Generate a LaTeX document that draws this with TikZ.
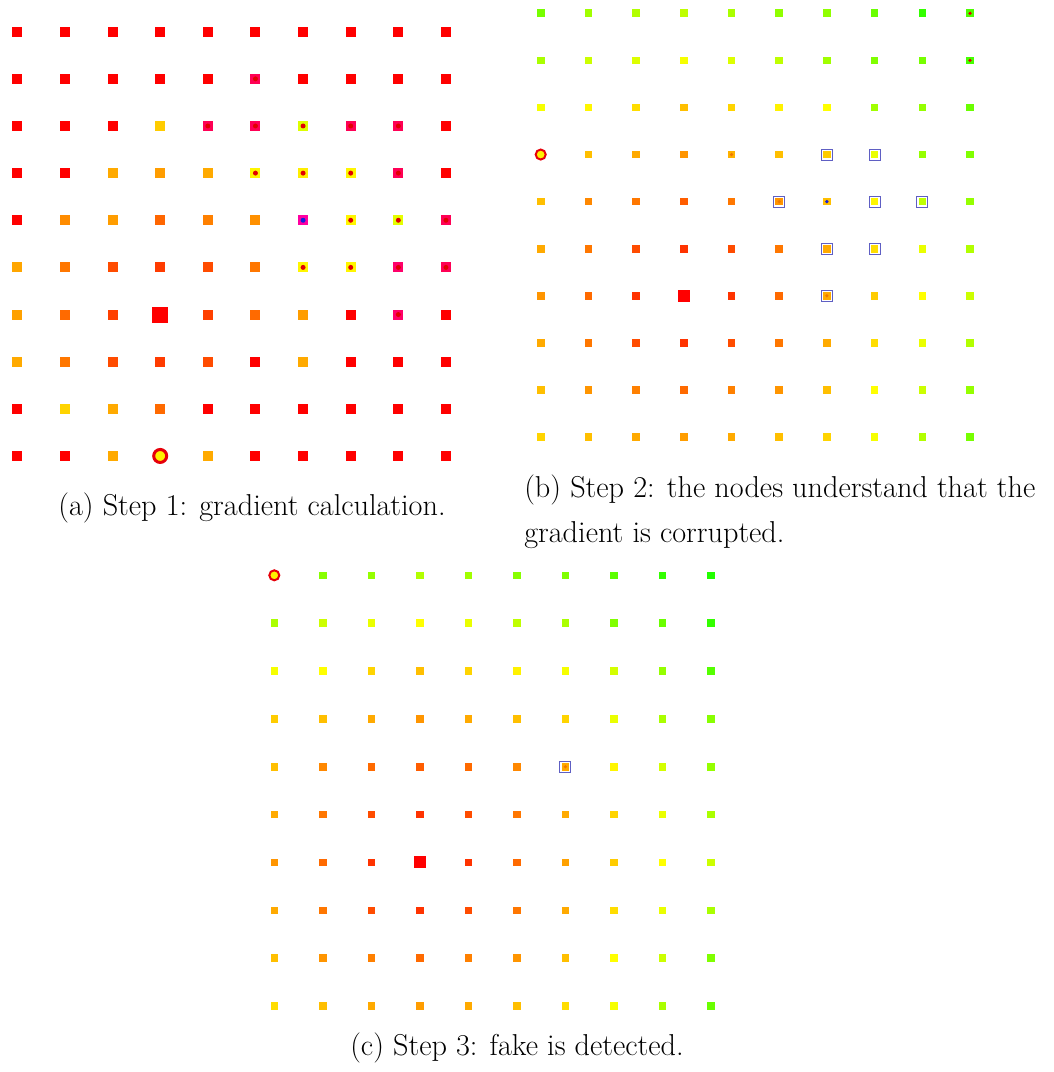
\documentclass[tikz,border=0pt]{standalone}
\usepackage{xcolor}
\usepackage{tikz}
\usetikzlibrary{positioning}
\definecolor{dotred}{RGB}{225,0,0}
\definecolor{dotblue}{RGB}{20,30,220}
\definecolor{dotorange}{RGB}{240,120,0}
\definecolor{flagblue}{RGB}{95,95,195}
\definecolor{ringred}{RGB}{230,0,10}
\definecolor{bigred}{RGB}{255,0,0}

% hue (degrees) -> colour cellc
\newcommand\sethue[1]{%
  \pgfmathsetmacro\cellr{ifthenelse(#1<=60,1,ifthenelse(#1<=120,(120-#1)/60,1))}%
  \pgfmathsetmacro\cellg{ifthenelse(#1<=60,#1/60,ifthenelse(#1<=120,1,0))}%
  \pgfmathsetmacro\cellb{ifthenelse(#1>=300,(360-#1)/60,0)}%
  \edef\setcellc{\noexpand\definecolor{cellc}{rgb}{\cellr,\cellg,\cellb}}\setcellc}

% marks drawn on top of a cell
\newcommand\cmkn[1]{}
\newcommand\cmkr[1]{\fill[dotred] (#1) circle (\dotr);}
\newcommand\cmkb[1]{\fill[dotblue] (#1) circle (\dotr);}
\newcommand\cmko[1]{\fill[dotorange] (#1) circle (\dotr);}
\newcommand\cmkx[1]{\node[flagbox] at (#1) {};}
\newcommand\cmkxo[1]{\cmkx{#1}\cmko{#1}}
\newcommand\cmkg[1]{\node[cell, fill=bigred, minimum size=\bigsz] at (#1) {};}
\newcommand\cmkc[1]{\node[ringcell] at (#1) {};}

\begin{document}
\begin{tikzpicture}[
    x=0.025cm, y=-0.025cm,
    cell/.style={rectangle, inner sep=0pt, minimum size=\cellsz},
    flagbox/.style={rectangle, draw=flagblue, line width=0.025cm,
                    inner sep=0pt, minimum size=\boxsz},
    ringcell/.style={circle, draw=ringred, fill=yellow, inner sep=0pt,
                     line width=\ringw, minimum size=\ringsz},
    caption/.style={font=\fontsize{21.5}{30}\selectfont, inner sep=0pt},
  ]
  \useasboundingbox (0,0) rectangle (1053,1072);

  % (a) Step 1
  \def\cellsz{0.25cm}\def\bigsz{0.4cm}\def\dotr{0.0625cm}
  \def\ringw{0.075cm}\def\ringsz{0.325cm}\def\boxsz{0.3cm}
  \foreach \row [count=\r] in {
    {0/n,0/n,0/n,0/n,0/n,0/n,0/n,0/n,0/n,0/n},
    {0/n,0/n,0/n,0/n,0/n,340/r,0/n,0/n,0/n,0/n},
    {0/n,0/n,0/n,48/n,340/r,340/r,68/r,340/r,340/r,0/n},
    {0/n,0/n,40/n,37/n,40/n,58/r,56/r,58/r,340/r,0/n},
    {0/n,33/n,37/n,24/n,30/n,34/n,322/b,58/r,66/r,340/r},
    {39/n,28/n,18/n,14/n,18/n,28/n,58/r,58/r,335/r,340/r},
    {38/n,25/n,15/n,0/g,15/n,25/n,37/n,0/n,335/r,0/n},
    {40/n,28/n,18/n,14/n,18/n,0/n,40/n,0/n,0/n,0/n},
    {0/n,50/n,40/n,25/n,0/n,0/n,0/n,0/n,0/n,0/n},
    {0/n,0/n,40/n,60/c,40/n,0/n,0/n,0/n,0/n,0/n}}{
    \foreach \h/\m [count=\c] in \row {
      \sethue{\h}
      \node[cell, fill=cellc] (a-\r-\c)
        at ({17.3+(\c-1)*47.63},{31.7+(\r-1)*47.14}) {};
      \csname cmk\m\endcsname{a-\r-\c}
    }
  }
  \node[caption, anchor=base] (capa) at (252,515)
    {(a) Step 1: gradient calculation.};

  % (b) Step 2
  \def\cellsz{0.19cm}\def\bigsz{0.3cm}\def\dotr{0.045cm}
  \def\ringw{0.05cm}\def\ringsz{0.25cm}\def\boxsz{0.275cm}
  \foreach \row [count=\r] in {
    {92/n,82/n,78/n,75/n,80/n,86/n,86/n,95/n,108/n,102/r},
    {80/n,72/n,68/n,62/n,68/n,75/n,82/n,90/n,92/n,104/r},
    {62/n,58/n,52/n,45/n,50/n,57/n,60/n,82/n,85/n,95/n},
    {60/c,45/n,40/n,35/n,42/o,45/n,48/x,65/x,85/n,90/n},
    {45/n,32/n,28/n,22/n,28/n,35/xo,45/b,58/x,75/x,85/n},
    {40/n,28/n,18/n,12/n,18/n,28/n,40/x,52/x,65/n,78/n},
    {35/n,25/n,12/n,0/g,12/n,25/n,40/xo,48/n,60/n,72/n},
    {40/n,28/n,18/n,12/n,18/n,28/n,40/n,52/n,65/n,78/n},
    {45/n,35/n,30/n,25/n,30/n,35/n,45/n,60/n,72/n,85/n},
    {50/n,45/n,40/n,37/n,40/n,45/n,50/n,62/n,78/n,92/n}}{
    \foreach \h/\m [count=\c] in \row {
      \sethue{\h}
      \node[cell, fill=cellc] (b-\r-\c)
        at ({540.7+(\c-1)*47.7},{13.3+(\r-1)*47.08}) {};
      \csname cmk\m\endcsname{b-\r-\c}
    }
  }
  \node[caption, anchor=base west] (capb1) at (524,497)
    {(b) Step 2: the nodes understand that the};
  \node[caption, anchor=base west] (capb2) at (524,542)
    {gradient is corrupted.};

  % (c) Step 3
  \foreach \row [count=\r] in {
    {60/c,88/n,85/n,78/n,82/n,88/n,90/n,98/n,108/n,112/n},
    {80/n,72/n,65/n,60/n,65/n,75/n,80/n,90/n,95/n,108/n},
    {62/n,60/n,50/n,45/n,50/n,57/n,62/n,70/n,85/n,100/n},
    {48/n,45/n,40/n,35/n,40/n,45/n,50/n,65/n,80/n,88/n},
    {45/n,32/n,25/n,22/n,25/n,32/n,40/xo,58/n,70/n,85/n},
    {40/n,28/n,18/n,12/n,18/n,28/n,40/n,50/n,65/n,80/n},
    {35/n,25/n,12/n,0/g,12/n,25/n,38/n,48/n,60/n,72/n},
    {40/n,28/n,18/n,12/n,18/n,28/n,40/n,52/n,65/n,80/n},
    {45/n,35/n,30/n,25/n,30/n,35/n,45/n,60/n,72/n,90/n},
    {52/n,45/n,40/n,37/n,40/n,45/n,52/n,62/n,80/n,95/n}}{
    \foreach \h/\m [count=\c] in \row {
      \sethue{\h}
      \node[cell, fill=cellc] (c-\r-\c)
        at ({274.3+(\c-1)*48.52},{575.3+(\r-1)*47.86}) {};
      \csname cmk\m\endcsname{c-\r-\c}
    }
  }
  \node[caption, anchor=base] (capc) at (517,1055)
    {(c) Step 3: fake is detected.};
\end{tikzpicture}
\end{document}
